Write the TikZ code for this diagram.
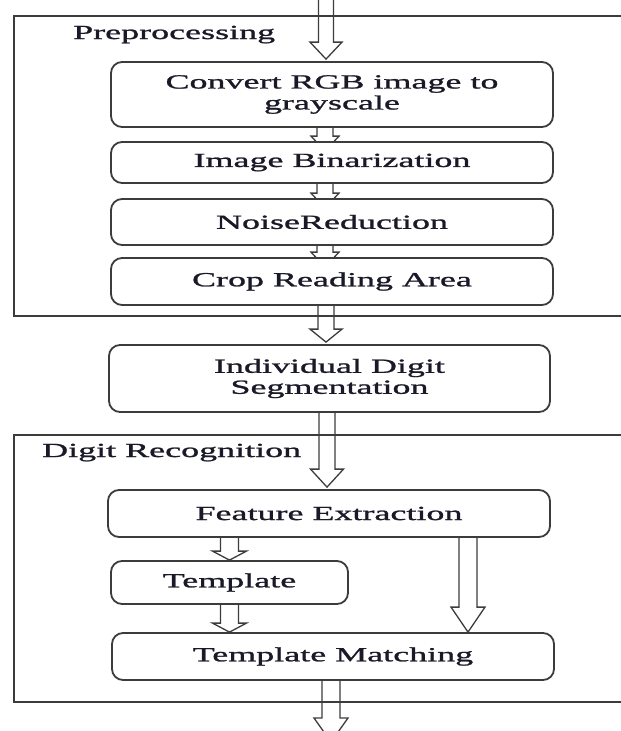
\documentclass[tikz,border=0pt]{standalone}
\usepackage{fontspec}
\setmainfont{Liberation Serif}[FakeStretch=1.8,FakeBold=1.2]
\usetikzlibrary{calc}
\pgfdeclarelayer{background}
\pgfsetlayers{background,main}
\definecolor{linec}{RGB}{60,60,60}
\definecolor{textc}{RGB}{25,25,40}
\tikzset{
  stepbox/.style={draw=linec, line width=1.8pt, rounded corners=11pt, fill=white, inner sep=0pt, align=center, text=textc, font=\fontsize{20}{21}\selectfont},
  frame/.style={draw=linec, line width=1.6pt},
  barrowline/.style={draw=linec, line width=1.3pt, line join=miter},
  grouplabel/.style={anchor=base west, inner sep=0pt, text=textc, font=\fontsize{20}{21}\selectfont},
}
\newcommand\blockarrow[5]{%
  \draw[barrowline] let \p1=#1, \p2=#2 in
   (\x1-#4,\y1) -- (\x1-#4,\y2+#3) -- (\x1-#5,\y2+#3) -- (\x1,\y2) -- (\x1+#5,\y2+#3) -- (\x1+#4,\y2+#3) -- (\x1+#4,\y1);}
\begin{document}
\begin{tikzpicture}[x=1pt,y=-1pt]
\useasboundingbox (0,0) rectangle (621,731);
\clip (0,0) rectangle (621,731);
% boxes
\node[stepbox, minimum width=442pt, minimum height=65pt] (b1) at (332,94.5) {Convert RGB image to\\grayscale};
\node[stepbox, minimum width=442pt, minimum height=41pt] (b2) at (332,162.5) {Image Binarization};
\node[stepbox, minimum width=442pt, minimum height=46pt] (b3) at (332,222) {NoiseReduction};
\node[stepbox, minimum width=442pt, minimum height=47pt] (b4) at (332,281.5) {Crop Reading Area};
\node[stepbox, minimum width=441pt, minimum height=67pt] (seg) at (329.5,378.5) {Individual Digit\\Segmentation};
\node[stepbox, minimum width=442pt, minimum height=47pt] (fe) at (329,513.5) {Feature Extraction};
\node[stepbox, minimum width=237pt, minimum height=43pt] (tp) at (229.5,582.5) {Template};
\node[stepbox, minimum width=442pt, minimum height=47pt] (tm) at (333,656.5) {Template Matching};
\node[grouplabel] (lp) at (73,39) {Preprocessing};
\node[grouplabel] (ld) at (42,457) {Digit Recognition};
\coordinate (in) at (326,-5);
\coordinate (out) at (331,742);
\begin{pgfonlayer}{background}
\fill[white] (0,0) rectangle (621,731);
% group frames
\draw[frame] (625,16) -- (14,16) -- (14,316) -- (625,316);
\draw[frame] (625,435) -- (14,435) -- (14,702) -- (625,702);
% arrows
\blockarrow{(in)}{([yshift=2pt]b1.north)}{17pt}{7.5pt}{16pt}
\blockarrow{([xshift=-7pt]b1.south)}{([yshift=-10pt]b2.north)}{15pt}{8pt}{14pt}
\blockarrow{([xshift=-7pt]b2.south)}{([yshift=-10pt]b3.north)}{15pt}{8pt}{14pt}
\blockarrow{([xshift=-7pt]b3.south)}{([yshift=-10pt]b4.north)}{15pt}{8pt}{14pt}
\blockarrow{([xshift=-6pt]b4.south)}{([yshift=2pt]seg.north)}{13pt}{8pt}{16pt}
\blockarrow{([xshift=-2.5pt]seg.south)}{([yshift=2pt]fe.north)}{18pt}{8pt}{16.5pt}
\blockarrow{(fe.south -| tp.north)}{(tp.north)}{9pt}{9pt}{17pt}
\blockarrow{(tp.south)}{(tm.north)}{9pt}{9pt}{17pt}
\blockarrow{([xshift=139pt]fe.south)}{(tm.north)}{25pt}{9pt}{17pt}
\blockarrow{([xshift=-2pt]tm.south)}{(out)}{24pt}{9pt}{17pt}
\end{pgfonlayer}
\end{tikzpicture}
\end{document}
